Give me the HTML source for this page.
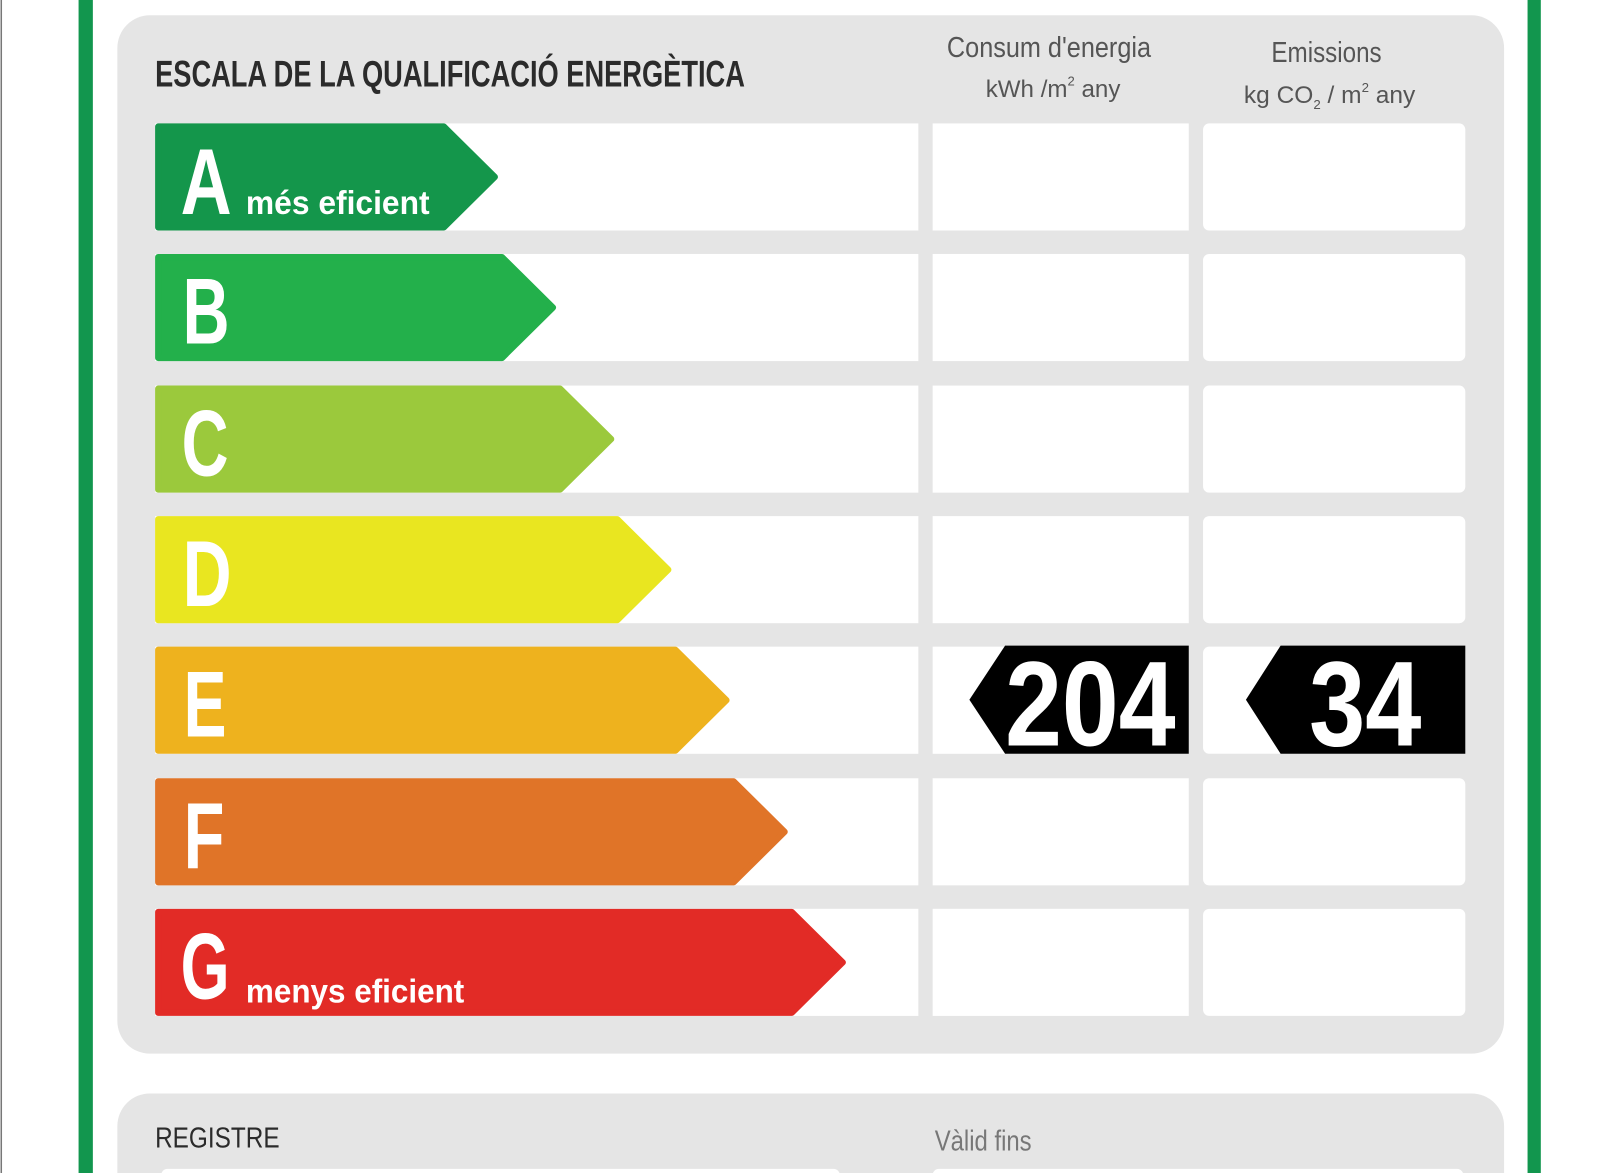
<!DOCTYPE html>
<html><head><meta charset="utf-8"><style>html,body{margin:0;padding:0;background:#fff}svg{display:block}</style></head>
<body>
<svg width="1600" height="1173" viewBox="0 0 1568 1150" preserveAspectRatio="none" xmlns="http://www.w3.org/2000/svg" font-family="Liberation Sans, sans-serif">
<rect x="0" y="0" width="1568" height="1150" fill="#fff"/>
<rect x="0.5" y="0" width="1.5" height="1150" fill="#777"/>
<rect x="77" y="0" width="14" height="1150" fill="#12964e"/>
<rect x="1497" y="0" width="13" height="1150" fill="#12964e"/>
<rect x="115" y="15" width="1359" height="1018" rx="32" fill="#e5e5e5"/>
<rect x="115" y="1072" width="1359" height="120" rx="32" fill="#e5e5e5"/>
<rect x="158" y="1146" width="665" height="20" rx="6" fill="#fff"/>
<rect x="914" y="1146" width="520" height="20" rx="6" fill="#fff"/>
<text x="152" y="85" font-size="36" font-weight="bold" fill="#2b2b2b" textLength="578" lengthAdjust="spacingAndGlyphs">ESCALA DE LA QUALIFICACIÓ ENERGÈTICA</text>
<g fill="#555" font-size="28" text-anchor="middle">
<text x="1028" y="56" textLength="200" lengthAdjust="spacingAndGlyphs">Consum d'energia</text>
<text x="1300" y="61" textLength="108" lengthAdjust="spacingAndGlyphs">Emissions</text>
</g>
<g fill="#555" font-size="24">
<text x="966" y="95" textLength="132" lengthAdjust="spacingAndGlyphs">kWh /m<tspan font-size="13" dy="-11">2</tspan><tspan dy="11">  any</tspan></text>
<text x="1219" y="101" textLength="168" lengthAdjust="spacingAndGlyphs">kg CO<tspan font-size="13" dy="6">2</tspan><tspan dy="-6">  / m</tspan><tspan font-size="13" dy="-11">2</tspan><tspan dy="11">  any</tspan></text>
</g>
<g fill="#fff">
<rect x="152" y="121" width="748" height="105"/><rect x="914" y="121" width="251" height="105"/><rect x="1179" y="121" width="257" height="105" rx="6"/>
<rect x="152" y="249" width="748" height="105"/><rect x="914" y="249" width="251" height="105"/><rect x="1179" y="249" width="257" height="105" rx="6"/>
<rect x="152" y="378" width="748" height="105"/><rect x="914" y="378" width="251" height="105"/><rect x="1179" y="378" width="257" height="105" rx="6"/>
<rect x="152" y="506" width="748" height="105"/><rect x="914" y="506" width="251" height="105"/><rect x="1179" y="506" width="257" height="105" rx="6"/>
<rect x="152" y="634" width="748" height="105"/><rect x="914" y="634" width="251" height="105"/><rect x="1179" y="634" width="257" height="105" rx="6"/>
<rect x="152" y="763" width="748" height="105"/><rect x="914" y="763" width="251" height="105"/><rect x="1179" y="763" width="257" height="105" rx="6"/>
<rect x="152" y="891" width="748" height="105"/><rect x="914" y="891" width="251" height="105"/><rect x="1179" y="891" width="257" height="105" rx="6"/>
</g>
<g stroke-linejoin="round" stroke-width="6">
<path d="M155 124 H435 L485 173.5 L435 223 H155 Z" fill="#14964b" stroke="#14964b"/>
<path d="M155 252 H492 L542 301.5 L492 351 H155 Z" fill="#23b04b" stroke="#23b04b"/>
<path d="M155 381 H549 L599 430.5 L549 480 H155 Z" fill="#9bc93c" stroke="#9bc93c"/>
<path d="M155 509 H605 L655 558.5 L605 608 H155 Z" fill="#e9e620" stroke="#e9e620"/>
<path d="M155 637 H662 L712 686.5 L662 736 H155 Z" fill="#eeb21e" stroke="#eeb21e"/>
<path d="M155 766 H719 L769 815.5 L719 865 H155 Z" fill="#e07428" stroke="#e07428"/>
<path d="M155 894 H776 L826 943.5 L776 993 H155 Z" fill="#e22b26" stroke="#e22b26"/>
</g>
<g fill="#fff" font-weight="bold" font-size="92">
<text x="177" y="210" textLength="50" lengthAdjust="spacingAndGlyphs">A</text>
<text x="179" y="337" textLength="46" lengthAdjust="spacingAndGlyphs">B</text>
<text x="178" y="466" textLength="46" lengthAdjust="spacingAndGlyphs">C</text>
<text x="179" y="594" textLength="48" lengthAdjust="spacingAndGlyphs">D</text>
<text x="180" y="722" textLength="42" lengthAdjust="spacingAndGlyphs">E</text>
<text x="180" y="851" textLength="40" lengthAdjust="spacingAndGlyphs">F</text>
<text x="177" y="979" textLength="48" lengthAdjust="spacingAndGlyphs">G</text>
</g>
<g fill="#fff" font-weight="bold" font-size="33">
<text x="241" y="210" textLength="180" lengthAdjust="spacingAndGlyphs">més eficient</text>
<text x="241" y="983" textLength="214" lengthAdjust="spacingAndGlyphs">menys eficient</text>
</g>
<path d="M985 633 H1165 V739 H985 L950 686 Z" fill="#000"/>
<path d="M1255 633 H1436 V739 H1255 L1221 686 Z" fill="#000"/>
<g fill="#fff" font-weight="bold" font-size="118">
<text x="985" y="731" textLength="167" lengthAdjust="spacingAndGlyphs">204</text>
<text x="1283" y="731" textLength="110" lengthAdjust="spacingAndGlyphs">34</text>
</g>
<text x="152" y="1125" font-size="28" fill="#2b2b2b" textLength="122" lengthAdjust="spacingAndGlyphs">REGISTRE</text>
<text x="916" y="1128" font-size="28" fill="#777" textLength="95" lengthAdjust="spacingAndGlyphs">Vàlid fins</text>
</svg>
</body></html>
